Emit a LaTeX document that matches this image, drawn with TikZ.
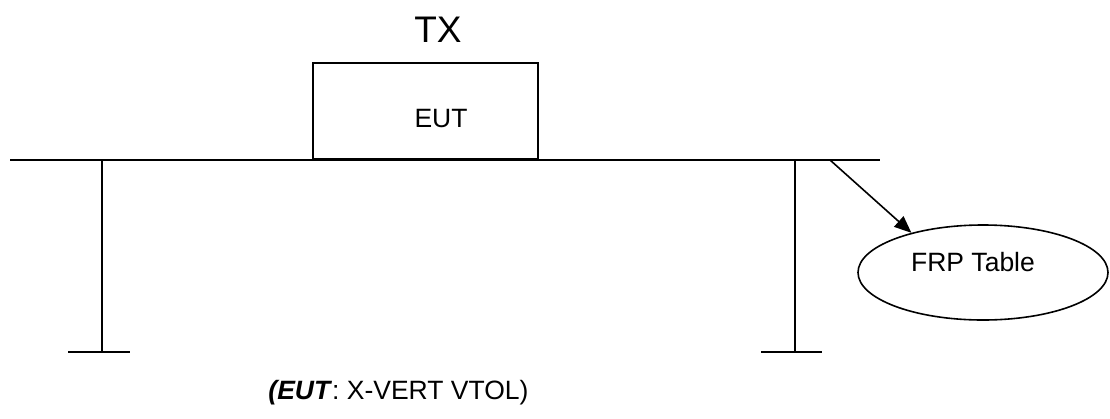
\documentclass[tikz,border=0pt]{standalone}
\usepackage{fontspec}
\setmainfont{Liberation Sans}
\usetikzlibrary{arrows.meta,shapes.geometric}
\begin{document}
\begin{tikzpicture}[x=1pt,y=-1pt,
  ln/.style={line width=1.6pt},
  lbl/.style={inner sep=0pt,font=\fontsize{26.5}{30}\selectfont}]
\useasboundingbox[fill=white] (0,0) rectangle (1110,418);
% table top
\coordinate (tl) at (10,160);
\coordinate (tr) at (880,160);
\draw[ln] (tl) -- (tr);
% legs
\coordinate (l1) at (102,160); \coordinate (l2) at (102,352);
\coordinate (lf1) at (68,352); \coordinate (lf2) at (130,352);
\coordinate (r1) at (795,160); \coordinate (r2) at (795,352);
\coordinate (rf1) at (761,352); \coordinate (rf2) at (822,352);
\draw[ln] (l1) -- (l2);
\draw[ln] (lf1) -- (lf2);
\draw[ln] (r1) -- (r2);
\draw[ln] (rf1) -- (rf2);
% EUT
\node[draw,ln,minimum width=225pt,minimum height=96pt,inner sep=0pt] (eut) at (425.5,111) {};
\node[lbl] (eutt) at (441,119) {EUT};
\node[lbl,font=\fontsize{37}{40}\selectfont] (tx) at (438,30) {TX};
% FRP table
\node[draw,ellipse,ln,minimum width=250pt,minimum height=95pt,inner sep=0pt] (frp) at (983,272.5) {};
\node[lbl] (frpt) at (973,262) {FRP Table};
\coordinate (as) at (830,160);
\draw[ln,-{Triangle[length=17pt,width=14pt]}] (as) -- (frp.151);
% caption
\node[lbl] (cap) at (398.5,393) {\textbf{\textit{(EUT}}: X-VERT VTOL)};
\end{tikzpicture}
\end{document}
